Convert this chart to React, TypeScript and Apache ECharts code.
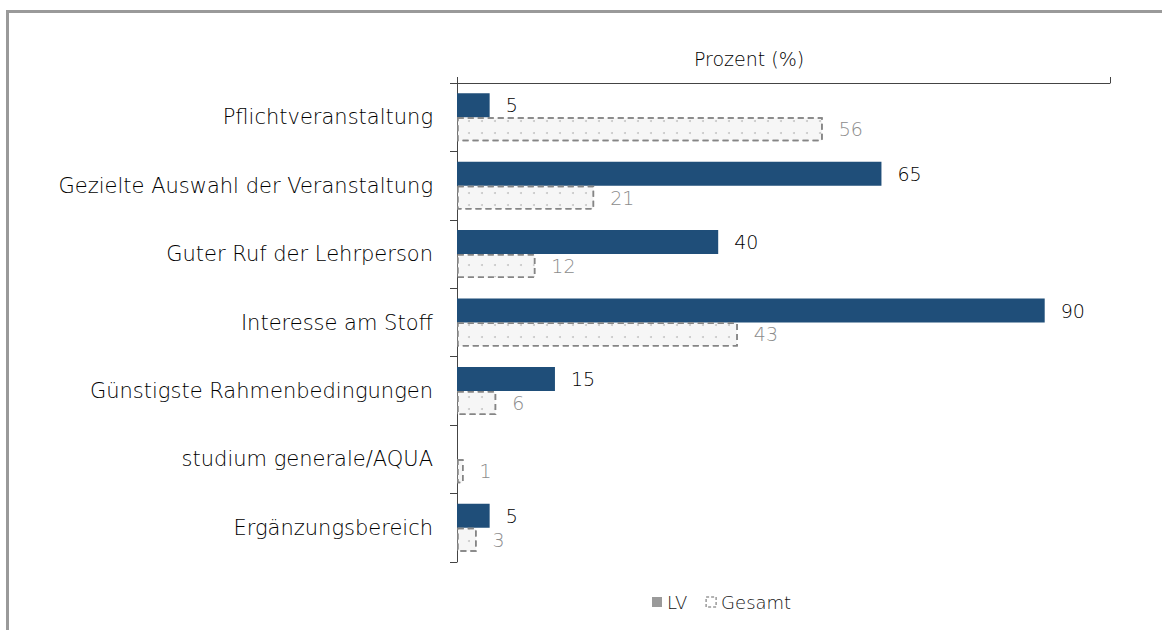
import React, { useEffect, useRef } from "react";
import * as echarts from "echarts";

const categories = [
  "Pflichtveranstaltung",
  "Gezielte Auswahl der Veranstaltung",
  "Guter Ruf der Lehrperson",
  "Interesse am Stoff",
  "Günstigste Rahmenbedingungen",
  "studium generale/AQUA",
  "Ergänzungsbereich",
];
const lvValues: (number | null)[] = [5, 65, 40, 90, 15, null, 5];
const gesamtValues = [56, 21, 12, 43, 6, 1, 3];
const seriesNames = ["LV", "Gesamt"];
const axisTitle = "Prozent (%)";

export default function App() {
  const ref = useRef<HTMLDivElement>(null);
  useEffect(() => {
    document.body.style.margin = "0";
    const chart = echarts.init(ref.current!, undefined, { renderer: "svg" });
    const font = "'DejaVu Sans', 'Liberation Sans', Arial, sans-serif";
    const fw = 200;
    chart.setOption({
      animation: false,
      textStyle: { fontFamily: font, fontWeight: fw },
      graphic: [
        {
          type: "rect",
          shape: { x: 7.5, y: 11.5, width: 1300, height: 800 },
          style: { fill: "none", stroke: "#9a9a9a", lineWidth: 3 },
          silent: true,
        },
        {
          type: "text",
          x: 749,
          y: 59,
          style: {
            text: axisTitle,
            fontSize: 19,
            fontFamily: font,
            fontWeight: fw,
            fill: "#000",
            align: "center",
            verticalAlign: "middle",
          },
          silent: true,
        },
      ],
      grid: { left: 457, right: 52, top: 83, bottom: 68, containLabel: false },
      legend: {
        top: 588,
        left: 647,
        itemWidth: 10,
        itemHeight: 10,
        itemGap: 18,
        textStyle: { fontSize: 18, color: "#111", fontFamily: font, fontWeight: fw },
        data: [
          { name: seriesNames[0], icon: "rect", itemStyle: { color: "#9a9a9a" } },
          {
            name: seriesNames[1],
            icon: "rect",
            itemStyle: {
              color: "#ffffff",
              borderColor: "#9a9a9a",
              borderWidth: 1.5,
              borderType: [3, 2],
              decal: "none",
            },
          },
        ],
      },
      xAxis: {
        type: "value",
        position: "top",
        min: 0,
        max: 100,
        interval: 100,
        axisLine: { show: true, lineStyle: { color: "#444", width: 1 } },
        axisTick: { show: true, length: 6, lineStyle: { color: "#444" } },
        axisLabel: { show: false },
        splitLine: { show: false },
      },
      yAxis: {
        type: "category",
        data: categories,
        inverse: true,
        axisLine: { show: true, lineStyle: { color: "#444", width: 1 } },
        axisTick: { show: true, length: 7, lineStyle: { color: "#444" } },
        axisLabel: {
          fontSize: 21,
          color: "#000",
          margin: 24,
          fontFamily: font,
          fontWeight: fw,
        },
      },
      series: [
        {
          name: seriesNames[0],
          type: "bar",
          data: lvValues,
          barGap: "0%",
          barCategoryGap: "30%",
          itemStyle: { color: "#1f4e79" },
          label: {
            show: true,
            position: "right",
            distance: 16,
            fontSize: 19,
            color: "#000",
            fontFamily: font,
            fontWeight: fw,
          },
        },
        {
          name: seriesNames[1],
          type: "bar",
          data: gesamtValues,
          itemStyle: {
            color: "#f6f6f6",
            borderColor: "#858585",
            borderWidth: 1.5,
            borderType: [6, 4],
            decal: {
              symbol: "circle",
              symbolSize: 1,
              color: "#c8c8c8",
              dashArrayX: [2, 11],
              dashArrayY: [2, 10],
              rotation: 0,
            },
          },
          label: {
            show: true,
            position: "right",
            distance: 16,
            fontSize: 19,
            color: "#8c8c8c",
            fontFamily: font,
            fontWeight: fw,
          },
        },
      ],
    });
    return () => chart.dispose();
  }, []);
  return <div ref={ref} style={{ width: 1162, height: 630 }} />;
}
